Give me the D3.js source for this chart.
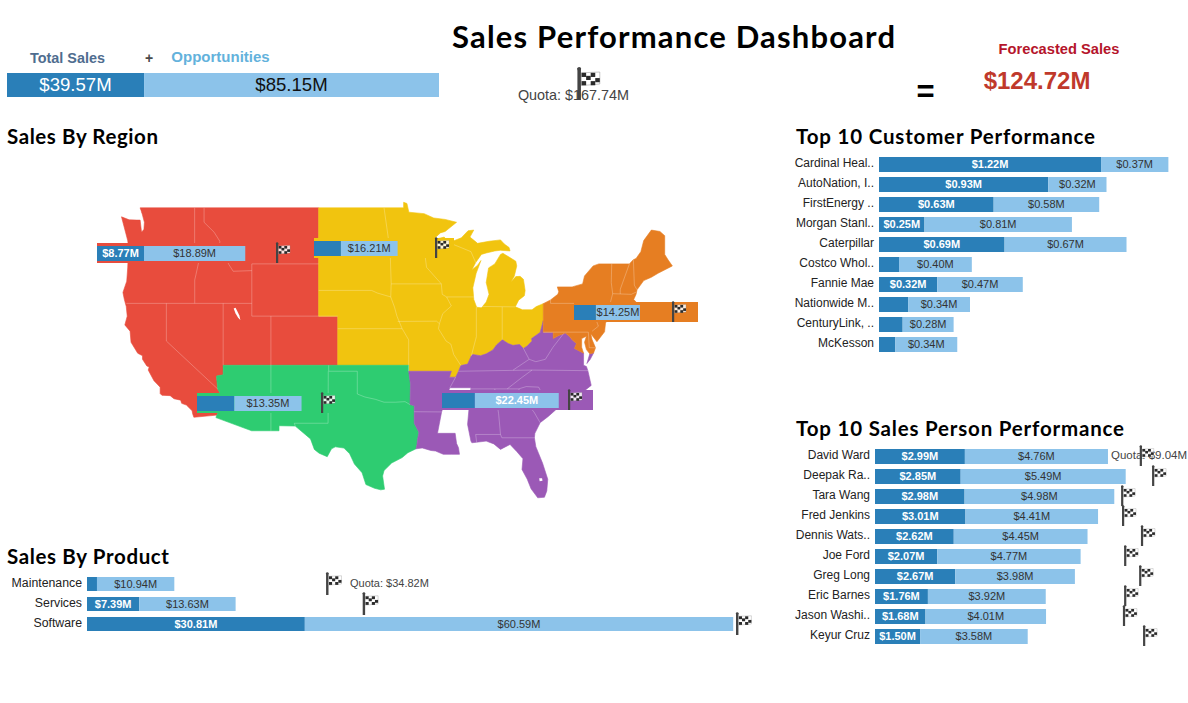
<!DOCTYPE html>
<html><head><meta charset="utf-8">
<script src="https://d3js.org/d3.v7.min.js"></script>
<style>html,body{margin:0;padding:0;background:#fff}svg{display:block}text{font-family:"Liberation Sans",Arial,sans-serif}</style>
</head><body><div id="c"></div>
<script>
// ---------- values ----------
const closedTotal = 39.57, openTotal = 85.15, quotaTotal = 167.74;
const productNames = ["Maintenance","Services","Software"];
const productClosed = [1.41,7.39,30.81];
const productOpen = [10.94,13.63,60.59];
const productQuota = [34.82,40.0,92.8];
const customerNames = ["Cardinal Heal..","AutoNation, I..","FirstEnergy ..","Morgan Stanl..","Caterpillar","Costco Whol..","Fannie Mae","Nationwide M..","CenturyLink, ..","McKesson"];
const customerClosed = [1.22,0.93,0.63,0.25,0.69,0.11,0.32,0.16,0.13,0.09];
const customerOpen = [0.37,0.32,0.58,0.81,0.67,0.40,0.47,0.34,0.28,0.34];
const personNames = ["David Ward","Deepak Ra..","Tara Wang","Fred Jenkins","Dennis Wats..","Joe Ford","Greg Long","Eric Barnes","Jason Washi..","Keyur Cruz"];
const personClosed = [2.99,2.85,2.98,3.01,2.62,2.07,2.67,1.76,1.68,1.50];
const personOpen = [4.76,5.49,4.98,4.41,4.45,4.77,3.98,3.92,4.01,3.58];
const personQuota = [9.04,9.45,8.42,8.45,9.08,8.52,9.02,8.52,8.48,9.15];
const regionNames = ["West","Central","Southwest","Southeast","Northeast"];
const regionClosed = [8.77,7.7,7.4,8.8,7.1];
const regionOpen = [18.89,16.21,13.35,22.45,14.25];
const regionQuota = [34.7,36.6,26.0,35.6,34.0];

// ---------- region outlines, [longitude, latitude] ----------
const westOutline = [[-122.75,49],[-104.05,49],[-104.05,41],[-102.05,41],[-102.05,37],[-114.05,37],[-114.05,36.2],[-114.75,36.1],[-114.63,35],[-114.14,34.3],[-114.43,34.1],[-114.72,33.4],[-114.52,33],[-114.72,32.72],[-117.12,32.53],[-117.25,32.85],[-117.3,33.1],[-117.9,33.6],[-118.4,33.75],[-118.5,34.03],[-119.2,34.15],[-119.6,34.42],[-120.47,34.45],[-120.65,34.6],[-120.65,35.15],[-121.3,35.7],[-121.9,36.6],[-121.8,36.85],[-122.05,36.95],[-122.5,37.5],[-122.5,37.8],[-123,38],[-123.7,38.9],[-123.8,39.8],[-124.35,40.3],[-124.1,41],[-124.2,41.75],[-124.4,42.3],[-124.55,42.85],[-124.15,43.7],[-124.05,44.7],[-123.95,46.2],[-124.05,46.7],[-124.2,47.1],[-124.7,48.38],[-123.9,48.17],[-123.1,48.15],[-122.75,48.15],[-122.6,47.3],[-122.35,47.5],[-122.3,48],[-122.5,48.5]];
const southwestOutline = [[-114.05,37],[-94.62,37],[-94.62,36.5],[-94.43,35.4],[-94.48,33.64],[-94.04,33.55],[-94.04,32],[-93.55,31.2],[-93.7,30.5],[-93.75,30.1],[-93.85,29.7],[-94.7,29.35],[-95.3,28.9],[-96.4,28.4],[-97.2,27.7],[-97.35,27.2],[-97.15,25.96],[-97.55,25.9],[-98.2,26.05],[-99.1,26.4],[-99.5,27.5],[-100.3,28.3],[-100.8,29.25],[-101.4,29.77],[-102.3,29.88],[-102.7,29.7],[-103.15,28.98],[-104,29.3],[-104.5,29.65],[-104.9,30.6],[-106.5,31.75],[-108.2,31.78],[-108.2,31.33],[-111.07,31.33],[-114.81,32.5],[-114.72,32.72],[-114.52,33],[-114.72,33.4],[-114.43,34.1],[-114.14,34.3],[-114.63,35],[-114.75,36.1],[-114.05,36.2]];
const centralOutline = [[-104.05,49],[-95.15,49],[-95.15,49.38],[-94.8,49.3],[-94.6,48.7],[-93,48.6],[-92,48.3],[-90.8,48.2],[-89.6,48],[-90.8,47.35],[-91.3,47.25],[-92.1,46.75],[-90.9,46.95],[-90.4,46.55],[-89.1,46.9],[-88.4,47.4],[-87.8,47.45],[-88.2,46.95],[-87.4,46.5],[-86.2,46.65],[-85,46.75],[-84.6,46.45],[-84.1,46.2],[-84,45.95],[-85,46],[-85.6,45.95],[-86.5,45.8],[-87,45.7],[-87.6,45.1],[-88,44.55],[-87.4,44.9],[-87.05,45.25],[-87.55,44.3],[-87.9,43.2],[-87.8,42.3],[-87.5,41.7],[-87,41.65],[-86.5,42.1],[-86.2,42.7],[-86.5,43.6],[-86.25,44.7],[-85.6,45],[-85,45.7],[-84.75,45.78],[-84.1,45.5],[-83.4,45.2],[-83.3,44.85],[-83.55,44.1],[-83.9,43.65],[-83.4,44.05],[-82.95,44.07],[-82.6,43.85],[-82.42,43],[-82.5,42.6],[-83.1,42.25],[-83.45,41.73],[-82.7,41.5],[-81.7,41.5],[-81.25,41.75],[-80.52,41.98],[-80.52,40.64],[-80.85,39.7],[-81.75,39.2],[-81.7,39],[-82.2,38.6],[-82.6,38.4],[-83,38.72],[-83.7,38.65],[-84.2,38.8],[-84.8,39.1],[-85.4,38.7],[-85.8,38.27],[-86.5,37.95],[-87.1,37.8],[-87.9,37.9],[-88.05,37.8],[-88.45,37.1],[-89.15,36.98],[-89.4,36.5],[-89.7,36],[-90.35,36],[-90.15,36.5],[-94.62,36.5],[-94.62,37],[-102.05,37],[-102.05,41],[-104.05,41]];
const southeastOutline = [[-94.62,36.5],[-90.15,36.5],[-90.35,36],[-89.7,36],[-89.4,36.5],[-89.15,36.98],[-88.45,37.1],[-88.05,37.8],[-87.9,37.9],[-87.1,37.8],[-86.5,37.95],[-85.8,38.27],[-85.4,38.7],[-84.8,39.1],[-84.2,38.8],[-83.7,38.65],[-83,38.72],[-82.6,38.4],[-82.2,38.6],[-81.7,39],[-81.75,39.2],[-80.85,39.7],[-80.52,40.64],[-80.52,39.72],[-79.48,39.72],[-79.48,39.2],[-78.9,39.45],[-78.2,39.65],[-77.72,39.32],[-77.5,39.1],[-77.05,38.8],[-77.25,38.4],[-76.3,38],[-76.3,37.5],[-76.3,37],[-76,36.9],[-75.85,36.55],[-75.5,35.3],[-76.5,34.65],[-77.9,33.9],[-78.55,33.85],[-79.2,33.2],[-80,32.6],[-80.85,32.05],[-81.4,31.1],[-81.45,30.7],[-81.3,29.9],[-80.6,28.4],[-80.05,26.9],[-80.15,25.8],[-80.4,25.2],[-81.1,25.15],[-81.8,26],[-82.2,26.9],[-82.75,27.8],[-82.65,28.8],[-83.3,29.45],[-84,30.1],[-85,29.65],[-85.7,30.15],[-86.5,30.4],[-87.5,30.3],[-88,30.25],[-88.1,30.4],[-88.45,31.9],[-88.1,35.1],[-90.3,35.1],[-90.6,34.5],[-91.17,33],[-91.6,31.1],[-89.75,31.1],[-89.6,30.18],[-89.4,29.8],[-89.3,29.2],[-90.1,29.2],[-91,29.2],[-91.8,29.5],[-92.3,29.55],[-93.2,29.78],[-93.85,29.7],[-93.75,30.1],[-93.7,30.5],[-93.55,31.2],[-94.04,32],[-94.04,33.55],[-94.48,33.64],[-94.43,35.4]];
const delmarvaOutline = [[-75.95,37.15],[-75.65,37.95],[-75.25,38.03],[-75.6,37.5]];
const northeastOutline = [[-80.52,41.98],[-79.76,42.27],[-79,42.7],[-78.9,42.9],[-79.05,43.27],[-77.5,43.27],[-76.4,43.5],[-76.2,44.1],[-75.3,44.85],[-74.7,45],[-71.5,45],[-71.1,45.3],[-70.8,45.4],[-70.3,45.9],[-70,46.7],[-69.2,47.45],[-68.3,47.35],[-67.8,47.05],[-67.8,45.7],[-67.45,45.3],[-67,44.85],[-68.5,44.3],[-69.2,44],[-70,43.75],[-70.7,43.05],[-70.8,42.7],[-71.05,42.3],[-70.6,41.95],[-70,41.8],[-70,41.6],[-71.2,41.5],[-71.5,41.4],[-72.9,41.25],[-73.65,41],[-74,40.75],[-72,41.05],[-72.5,40.8],[-73.9,40.58],[-74,40.45],[-74.1,39.75],[-74.9,38.95],[-75.2,39.25],[-75.55,39.6],[-75.4,39.1],[-75.05,38.45],[-75.25,38.03],[-75.65,37.95],[-76,38.3],[-76.2,38.9],[-76,39.4],[-76.5,39.2],[-76.5,38.5],[-76.3,38],[-77.25,38.4],[-77.05,38.8],[-77.5,39.1],[-77.72,39.32],[-78.2,39.65],[-78.9,39.45],[-79.48,39.2],[-79.48,39.72],[-80.52,39.72],[-80.52,40.64]];
const lakeOutlines = [[[-112.95,41.6],[-112.75,41.65],[-112.35,41.05],[-112.25,40.7],[-112.5,40.9],[-112.75,41.2]],[[-80.95,27],[-80.65,27],[-80.6,26.75],[-80.9,26.7]],[[-122.75,48.9],[-122.6,48.5],[-122.55,48.1],[-122.62,48.1],[-122.72,48.5]]];
const stateLines = [
[[-124,46.25],[-123.2,46.15],[-122.8,45.65],[-121.2,45.65],[-119.3,45.93],[-119,46],[-116.92,46]],
[[-117.04,49],[-117.04,46.4],[-116.92,46],[-116.5,45.5],[-116.9,44.2],[-117.03,43.8],[-117.03,42]],
[[-116.05,49],[-116.05,48],[-115,47.3],[-114.4,46.65],[-114.5,45.6],[-113.9,45.6],[-113.45,44.95],[-113,44.45],[-111.05,44.5]],
[[-111.05,45],[-104.05,45]],[[-111.05,45],[-111.05,41]],[[-124.2,42],[-111.05,42]],[[-120,42],[-120,39],[-114.63,35]],[[-114.05,42],[-114.05,37]],[[-111.05,41],[-102.05,41]],[[-109.05,41],[-109.05,31.33]],
[[-103,37],[-103,36.5],[-100,36.5],[-100,34.56],[-99.2,34.3],[-98.1,34.1],[-97.2,33.85],[-96,33.85],[-95,33.9],[-94.48,33.64]],[[-103.04,36.5],[-103.06,32],[-106.6,32],[-106.5,31.75]],
[[-104.05,45.94],[-96.56,45.94]],[[-104.05,43],[-98.5,43],[-97.9,42.8],[-96.5,42.5]],[[-102.05,40],[-95.3,40]],[[-97.2,49],[-96.56,45.94],[-96.45,43.5],[-91.2,43.5]],[[-96.45,43.5],[-96.5,42.5],[-96.1,41.7],[-95.85,41],[-95.3,40],[-94.62,39.1],[-94.62,36.5]],[[-95.77,40.58],[-91.7,40.6],[-91.4,40.4]],
[[-92.1,46.75],[-92.3,46.1],[-92.9,45.6],[-92.75,44.75],[-91.2,43.5],[-91.1,42.7],[-90.65,42.5],[-90.15,41.8],[-91.05,41.2],[-91.4,40.4],[-91.5,40],[-90.7,39],[-90.2,38.75],[-89.9,37.9],[-89.15,36.98]],[[-90.65,42.5],[-87.8,42.5]],[[-90.4,46.55],[-88.1,45.9],[-87.6,45.1]],[[-87.53,41.7],[-87.53,39.35],[-88.05,37.8]],[[-84.82,41.73],[-84.82,39.1]],[[-87,41.76],[-83.45,41.73]],
[[-94.04,33.02],[-91.17,33]],[[-89.7,36],[-90.3,35.1]],[[-89.4,36.5],[-81.7,36.6],[-75.85,36.55]],[[-83.68,36.6],[-82,37.5],[-82.6,38.4]],[[-82,37.5],[-81.3,37.3],[-80.3,37.5],[-79.5,38.5],[-78.4,39.6]],[[-81.7,36.6],[-82.8,35.95],[-84.3,35]],[[-88.1,35],[-83.1,35]],[[-83.1,35],[-82.3,35.2],[-81,35.15],[-80.8,34.82],[-79.67,34.8],[-78.55,33.85]],[[-83.1,35],[-82,33.5],[-81.5,33],[-80.85,32.05]],[[-85.6,35],[-85.2,32.85],[-85,31],[-84.86,30.7],[-81.45,30.7]],[[-85,31],[-87.6,31],[-87.5,30.3]],
[[-79.76,42.27],[-79.76,42],[-75.35,42],[-74.7,41.36]],[[-74.7,41.36],[-75.1,40.95],[-74.75,40.2],[-75.4,39.8]],[[-80.52,39.72],[-75.8,39.72]],[[-75.8,39.72],[-75.7,38.46],[-75.05,38.45]],[[-73.35,45],[-73.4,43.6],[-73.25,42.75],[-73.5,42.05],[-73.65,41]],[[-71.5,45],[-72.45,43.1],[-72.46,42.73]],[[-73.25,42.75],[-71.3,42.7],[-70.8,42.87]],[[-73.5,42.05],[-71.38,42.02],[-71.15,41.5]],[[-71.8,42.02],[-71.85,41.32]],[[-71.08,45.3],[-70.98,43.4],[-70.7,43.05]]
];
const regionOutlines = [[westOutline],[centralOutline],[southwestOutline],[southeastOutline,delmarvaOutline],[northeastOutline]];
const regionColors = ["#e84c3d","#f1c40f","#2ecc71","#9b59b6","#e67e22"];

// ---------- layout ----------
const W = 1188, H = 703, DARK = "#2a7fb8", LIGHT = "#8cc3ea", INK = "#333";
const fmt = v => "$" + v.toFixed(2) + "M";
const svg = d3.select("#c").append("svg").attr("width",W).attr("height",H);
const titleFont = 'Lato,"Noto Sans",sans-serif';

function title(t,x,y,size,len){
  svg.append("text").text(t).attr("x",x).attr("y",y).attr("font-size",size).attr("font-weight",700)
     .style("font-family",titleFont).attr("fill","#000").attr("textLength",len).attr("lengthAdjust","spacing");
}
function label(t,x,y,o={}){
  return svg.append("text").text(t).attr("x",x).attr("y",y).attr("font-size",o.size||11)
    .attr("text-anchor",o.anchor||"middle").attr("font-weight",o.weight||400).attr("fill",o.fill||INK);
}
function flag(px,top,h){
  const g = svg.append("g").attr("transform",`translate(${px},${top}) scale(${h/20})`);
  g.append("rect").attr("x",-1).attr("y",0).attr("width",2.2).attr("height",20).attr("fill","#444");
  g.append("circle").attr("cx",0.1).attr("cy",0.5).attr("r",1.2).attr("fill","#444");
  const wave = [0,-0.7,0,0.7];
  g.append("path").attr("d","M1.5,3L13,2.5L13,10L1.5,11Z").attr("fill","#fff").attr("stroke","#888").attr("stroke-width",.3).attr("fill-opacity",.85);
  d3.range(3).forEach(r=>d3.range(4).forEach(c=>{
    if((r+c)%2===0) g.append("rect").attr("x",1.6+c*2.85).attr("y",3+r*2.6+wave[c]).attr("width",2.85).attr("height",2.6).attr("fill","#2b2b2b");
  }));
}
function stacked(x0,barTop,i,closed,open,scale,h,opts={}){
  const xc = scale(closed), xe = scale(closed+open);
  svg.append("rect").attr("x",scale(0)).attr("y",barTop).attr("width",xc-scale(0)).attr("height",h).attr("fill",DARK);
  svg.append("rect").attr("x",xc).attr("y",barTop).attr("width",xe-xc).attr("height",h).attr("fill",LIGHT);
  const by = barTop+h/2+3.8;
  if(xc-scale(0)>=40) label(fmt(closed),(scale(0)+xc)/2,by,{fill:"#fff",weight:700});
  label(fmt(open),(xc+xe)/2,by,opts.openStyle||{fill:INK});
}

// ---------- headings ----------
title("Sales Performance Dashboard",452,48,31,443);
title("Sales By Region",7,143.5,20.5,151);
title("Top 10 Customer Performance",796,143.5,20.5,299);
title("Sales By Product",7,563.5,20.5,162);
title("Top 10 Sales Person Performance",796,435.5,20.5,328);

// ---------- top summary ----------
label("Total Sales",67.5,63,{size:14.4,weight:700,fill:"#4f6d8f"});
label("+",149,63,{size:14,weight:700,fill:"#4a4a4a"});
label("Opportunities",220.5,62,{size:15,weight:700,fill:"#63b2dc"});
label("Forecasted Sales",1059,54,{size:14.7,weight:700,fill:"#b5152b"});
label(fmt(closedTotal+openTotal),1037,89,{size:24,weight:700,fill:"#c0392b"});
label("=",925.5,102,{size:31,weight:700,fill:"#000"});
const topX = d3.scaleLinear().domain([0,closedTotal+openTotal]).range([7,439]);
svg.append("rect").attr("x",topX(0)).attr("y",73).attr("width",topX(closedTotal)-topX(0)).attr("height",24).attr("fill",DARK);
svg.append("rect").attr("x",topX(closedTotal)).attr("y",73).attr("width",topX(closedTotal+openTotal)-topX(closedTotal)).attr("height",24).attr("fill",LIGHT);
label(fmt(closedTotal),(topX(0)+topX(closedTotal))/2,91,{size:18.6,fill:"#fff"});
label(fmt(openTotal),(topX(closedTotal)+topX(closedTotal+openTotal))/2,91,{size:18.6,fill:"#111"});
label("Quota: "+fmt(quotaTotal),573.5,100,{size:14.4,fill:"#444"});
flag(topX(quotaTotal)-9,68,32);

// ---------- map ----------
const projection = d3.geoMercator().scale(547).translate([1312,746]);
const ring = d3.line().x(d=>projection(d)[0]).y(d=>projection(d)[1]);
regionOutlines.forEach((parts,i)=>parts.forEach(p=>{
  svg.append("path").attr("d",ring(p)+"Z").attr("fill",regionColors[i]).attr("stroke",regionColors[i]).attr("stroke-width",.6);
}));
stateLines.forEach(l=>svg.append("path").attr("d",ring(l)).attr("fill","none").attr("stroke","#fff").attr("stroke-opacity",.25).attr("stroke-width",1));
lakeOutlines.forEach(l=>svg.append("path").attr("d",ring(l)+"Z").attr("fill","#fff"));

// ---------- region widgets ----------
const regionLeft = [97,314,197,442,574], regionBarTop = [246,241,396,393,305], regionBlockWidth = [190,140,150,151,124];
const regionScaleWidth = [186,128,131,133,105];
regionNames.forEach((n,i)=>{
  const top = regionBarTop[i], x0 = regionLeft[i];
  const xs = d3.scaleLinear().domain([0,regionQuota[i]]).range([x0,x0+regionScaleWidth[i]]);
  svg.append("rect").attr("x",x0).attr("y",top-3).attr("width",regionBlockWidth[i]).attr("height",20).attr("fill",regionColors[i]);
  stacked(x0,top,i,regionClosed[i],regionOpen[i],xs,15,{openStyle:i===3?{fill:"#fff",size:11,weight:700}:{fill:INK}});
  flag(xs(regionQuota[i])-6,top-3,20);
});

// ---------- product ----------
const productX = d3.scaleLinear().domain([0,100]).range([87,794]);
productNames.forEach((n,i)=>{
  const top = 577+i*20;
  label(n,82,top+10,{size:12.3,anchor:"end",fill:"#222"});
  stacked(87,top,i,productClosed[i],productOpen[i],productX,14);
  flag(productX(productQuota[i])-6,top-4,22);
});
label("Quota: "+fmt(productQuota[0]),350,587,{anchor:"start",fill:"#444"});

// ---------- customers ----------
const custX = d3.scaleLinear().domain([0,1]).range([879,1061]);
customerNames.forEach((n,i)=>{
  const top = 157+i*20;
  label(n,874,top+10,{size:12,anchor:"end",fill:"#222"});
  stacked(879,top,i,customerClosed[i],customerOpen[i],custX,15);
});

// ---------- sales people ----------
const personX = d3.scaleLinear().domain([0,10]).range([875,1175.6]);
personNames.forEach((n,i)=>{
  const top = 449+i*20;
  label(n,870,top+10,{size:12,anchor:"end",fill:"#222"});
  stacked(875,top,i,personClosed[i],personOpen[i],personX,15);
});
label("Quota: "+fmt(personQuota[0]),1111,459,{anchor:"start",size:11.5,fill:"#444"});
personNames.forEach((n,i)=>flag(personX(personQuota[i])-6,446+i*20,20));
</script></body></html>
